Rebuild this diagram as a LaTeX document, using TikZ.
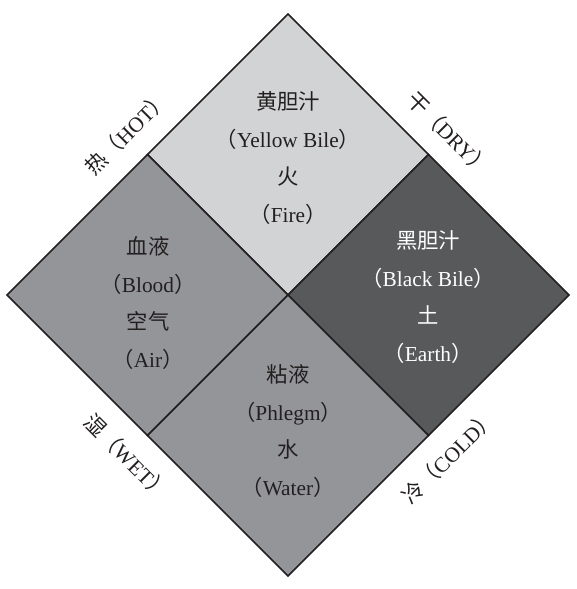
\documentclass[tikz,border=0pt]{standalone}
\usepackage{fontspec}
\setmainfont{Liberation Serif}
\newfontfamily\cjk{Noto Sans CJK SC}
\definecolor{lightsq}{HTML}{D1D3D4}
\definecolor{midsq}{HTML}{939598}
\definecolor{darksq}{HTML}{58595B}
\definecolor{ink}{HTML}{231F20}
\tikzset{
  sq/.style={draw=ink, line width=1.1pt, line join=miter},
  sqtext/.style={align=center, text=ink, font=\fontsize{16}{28.1}\selectfont, inner sep=0pt},
  edgelabel/.style={text=ink, font=\fontsize{16}{18}\selectfont, inner sep=0pt}
}
\newcommand{\lp}{{\cjk （}}
\newcommand{\rp}{{\cjk ）}}
\begin{document}
\begin{tikzpicture}[x=0.75pt, y=-0.75pt]
\useasboundingbox (0,0) rectangle (576,589);
\coordinate (T) at (288,14);
\coordinate (B) at (288,576);
\coordinate (L) at (7,295);
\coordinate (R) at (569,295);
\coordinate (C) at (288,295);
\coordinate (TL) at (147.5,154.5);
\coordinate (TR) at (428.5,154.5);
\coordinate (BL) at (147.5,435.5);
\coordinate (BR) at (428.5,435.5);
% squares
\filldraw[sq, fill=lightsq] (T) -- (TR) -- (C) -- (TL) -- cycle;
\filldraw[sq, fill=midsq] (TL) -- (C) -- (BL) -- (L) -- cycle;
\filldraw[sq, fill=darksq] (TR) -- (R) -- (BR) -- (C) -- cycle;
\filldraw[sq, fill=midsq] (C) -- (BR) -- (B) -- (BL) -- cycle;
% square texts
\node[sqtext] (fire) at (288,158) {{\cjk 黄胆汁}\\\lp Yellow Bile\rp\\{\cjk 火}\\\lp Fire\rp};
\node[sqtext] (air) at (148,303) {{\cjk 血液}\\\lp Blood\rp\\{\cjk 空气}\\\lp Air\rp};
\node[sqtext, text=white] (earth) at (428,297) {{\cjk 黑胆汁}\\\lp Black Bile\rp\\{\cjk 土}\\\lp Earth\rp};
\node[sqtext] (water) at (288,431) {{\cjk 粘液}\\\lp Phlegm\rp\\{\cjk 水}\\\lp Water\rp};
% edge labels
\node[edgelabel, rotate=45] (hot) at (127,133) {{\cjk 热}\lp HOT\rp};
\node[edgelabel, rotate=-45] (dry) at (449,134) {{\cjk 干}\lp DRY\rp};
\node[edgelabel, rotate=-45] (wet) at (127,457) {{\cjk 湿}\lp WET\rp};
\node[edgelabel, rotate=45] (cold) at (449,457) {{\cjk 冷}\lp COLD\rp};
\end{tikzpicture}
\end{document}
